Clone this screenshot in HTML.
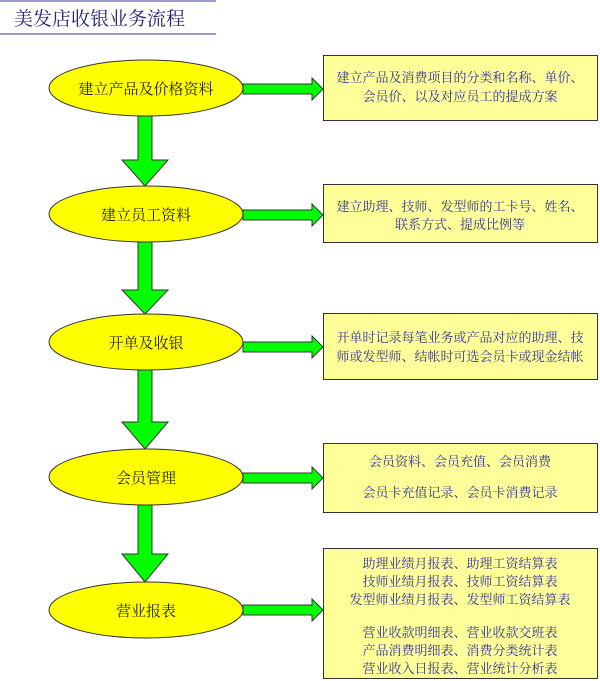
<!DOCTYPE html>
<html><head><meta charset="utf-8"><style>body{margin:0;background:#fff}svg{display:block}</style></head><body>
<svg width="600" height="681" xmlns="http://www.w3.org/2000/svg" font-family="Liberation Serif, Noto Serif CJK SC, serif">
<line x1="0" y1="1" x2="216" y2="1" stroke="#9a9acc" stroke-width="2"/>
<line x1="0" y1="34" x2="216" y2="34" stroke="#9a9acc" stroke-width="2"/>
<text x="14" y="25" font-size="19" fill="#222277">美发店收银业务流程</text>
<g stroke="#333" stroke-width="1" fill="#00ff00">
<polygon points="138,116 152,116 152,160 168,160 145,186 122,160 138,160"/>
<polygon points="138,242 152,242 152,290 168,290 145,314 122,290 138,290"/>
<polygon points="138,370 152,370 152,422 168,422 145,449 122,422 138,422"/>
<polygon points="138,505 152,505 152,554 168,554 145,582 122,554 138,554"/>
<polygon points="243,84 312,84 312,78 323,89 312,100 312,94 243,94"/>
<polygon points="243,210 312,210 312,204 323,215 312,226 312,220 243,220"/>
<polygon points="243,342 312,342 312,336 323,347 312,358 312,352 243,352"/>
<polygon points="243,473 312,473 312,467 323,478 312,489 312,483 243,483"/>
<polygon points="243,605 312,605 312,599 323,610 312,621 312,615 243,615"/>
</g>
<g fill="#ffff00" stroke="#333" stroke-width="1">
<ellipse cx="146" cy="88" rx="97" ry="28"/>
<ellipse cx="146" cy="214" rx="97" ry="28"/>
<ellipse cx="146" cy="342" rx="97" ry="28"/>
<ellipse cx="146" cy="477" rx="97" ry="28"/>
<ellipse cx="146" cy="610" rx="97" ry="28"/>
</g>
<g font-size="15" fill="#222" text-anchor="middle">
<text x="146" y="94">建立产品及价格资料</text>
<text x="146" y="220">建立员工资料</text>
<text x="146" y="348">开单及收银</text>
<text x="146" y="483">会员管理</text>
<text x="146" y="616">营业报表</text>
</g>
<g fill="#ffff99" stroke="#333" stroke-width="1">
<rect x="323.5" y="55.5" width="274" height="65"/>
<rect x="323.5" y="184.5" width="274" height="58"/>
<rect x="323.5" y="313.5" width="274" height="66"/>
<rect x="323.5" y="443.5" width="274" height="69"/>
<rect x="323.5" y="548.5" width="274" height="130"/>
</g>
<g font-size="13" fill="#333399" text-anchor="middle">
<text x="460" y="82">建立产品及消费项目的分类和名称、单价、</text>
<text x="460" y="101">会员价、以及对应员工的提成方案</text>
<text x="460" y="211">建立助理、技师、发型师的工卡号、姓名、</text>
<text x="460" y="229">联系方式、提成比例等</text>
<text x="460" y="342">开单时记录每笔业务或产品对应的助理、技</text>
<text x="460" y="361">师或发型师、结帐时可选会员卡或现金结帐</text>
<text x="460" y="466">会员资料、会员充值、会员消费</text>
<text x="460" y="497">会员卡充值记录、会员卡消费记录</text>
<text x="460" y="568">助理业绩月报表、助理工资结算表</text>
<text x="460" y="586">技师业绩月报表、技师工资结算表</text>
<text x="460" y="604">发型师业绩月报表、发型师工资结算表</text>
<text x="460" y="637">营业收款明细表、营业收款交班表</text>
<text x="460" y="655">产品消费明细表、消费分类统计表</text>
<text x="460" y="673">营业收入日报表、营业统计分析表</text>
</g>
</svg>
</body></html>
